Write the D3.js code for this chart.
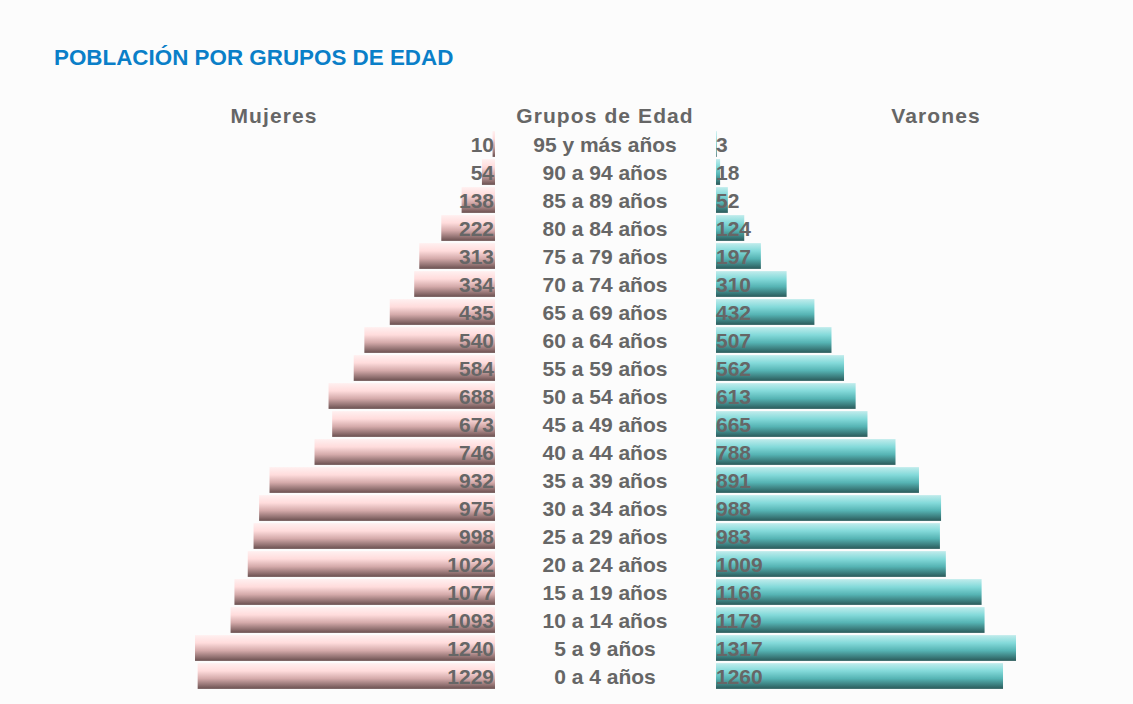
<!DOCTYPE html>
<html>
<head>
<meta charset="utf-8">
<script src="https://d3js.org/d3.v7.min.js"></script>
<style>
  html, body { margin: 0; padding: 0; background: #fcfcfc; }
  svg { display: block; }
</style>
</head>
<body>
<svg id="chart" width="1133" height="704"></svg>
<script>
const groups = ['95 y más años', '90 a 94 años', '85 a 89 años', '80 a 84 años', '75 a 79 años',
  '70 a 74 años', '65 a 69 años', '60 a 64 años', '55 a 59 años', '50 a 54 años',
  '45 a 49 años', '40 a 44 años', '35 a 39 años', '30 a 34 años', '25 a 29 años',
  '20 a 24 años', '15 a 19 años', '10 a 14 años', '5 a 9 años', '0 a 4 años'];
const mujeres = [10, 54, 138, 222, 313, 334, 435, 540, 584, 688, 673, 746, 932, 975, 998, 1022, 1077, 1093, 1240, 1229];
const varones = [3, 18, 52, 124, 197, 310, 432, 507, 562, 613, 665, 788, 891, 988, 983, 1009, 1166, 1179, 1317, 1260];
const headers = ['Mujeres', 'Grupos de Edad', 'Varones'];
const title = 'POBLACIÓN POR GRUPOS DE EDAD';

class PyramidChart {
  constructor(svgId) {
    this.svg = d3.select(`#${svgId}`);
    this.font = '"Liberation Sans", Arial, sans-serif';
    this.leftEnd = 495;
    this.rightStart = 716;
    this.center = 605;
    this.maxWidth = 300;

    this.y = d3.scaleBand()
      .domain(groups)
      .range([130, 690])
      .paddingInner(0.08)
      .paddingOuter(0.04);

    this.xLeft = d3.scaleLinear()
      .domain([0, d3.max(mujeres)])
      .range([0, this.maxWidth]);

    this.xRight = d3.scaleLinear()
      .domain([0, d3.max(varones)])
      .range([0, this.maxWidth]);
  }

  addGradients() {
    const defs = this.svg.append('defs');
    const make = (id, stops) => {
      const g = defs.append('linearGradient')
        .attr('id', id)
        .attr('x1', 0).attr('y1', 0)
        .attr('x2', 0).attr('y2', 1);
      stops.forEach(([offset, color]) => {
        g.append('stop').attr('offset', offset).attr('stop-color', color);
      });
    };
    make('pink', [['0', '#fff0f0'], ['0.3', '#ffdcdc'], ['0.6', '#d4aaaa'], ['1', '#6a5050']]);
    make('teal', [['0', '#c0ecec'], ['0.3', '#84dada'], ['0.6', '#56b4b4'], ['1', '#2a5a5a']]);
  }

  addTitle() {
    this.svg.append('text')
      .attr('x', 54)
      .attr('y', 65)
      .attr('font-family', this.font)
      .attr('font-weight', 'bold')
      .attr('font-size', 22.4)
      .attr('fill', '#0a7fc8')
      .text(title);

    const xs = [274, this.center, 936];
    headers.forEach((h, i) => {
      this.svg.append('text')
        .attr('x', xs[i])
        .attr('y', 123)
        .attr('text-anchor', 'middle')
        .attr('font-family', this.font)
        .attr('font-weight', 'bold')
        .attr('font-size', 21)
        .attr('letter-spacing', 1.1)
        .attr('fill', '#666666')
        .text(h);
    });
  }

  addBars() {
    const bh = this.y.bandwidth();

    this.svg.append('g').selectAll('rect')
      .data(mujeres)
      .join('rect')
      .attr('x', (d) => this.leftEnd - this.xLeft(d))
      .attr('y', (d, i) => this.y(groups[i]))
      .attr('width', (d) => this.xLeft(d))
      .attr('height', bh)
      .attr('fill', 'url(#pink)');

    this.svg.append('g').selectAll('rect')
      .data(varones)
      .join('rect')
      .attr('x', this.rightStart)
      .attr('y', (d, i) => this.y(groups[i]))
      .attr('width', (d) => this.xRight(d))
      .attr('height', bh)
      .attr('fill', 'url(#teal)');
  }

  addLabels() {
    const bh = this.y.bandwidth();
    const base = (g) => this.y(g) + bh / 2 + 7.5;
    const style = (sel) => sel
      .attr('font-family', this.font)
      .attr('font-weight', 'bold')
      .attr('font-size', 21)
      .attr('fill', '#666666');

    this.svg.append('g').selectAll('text')
      .data(mujeres)
      .join('text')
      .attr('x', this.leftEnd - 1)
      .attr('y', (d, i) => base(groups[i]))
      .attr('text-anchor', 'end')
      .call(style)
      .text((d) => d);

    this.svg.append('g').selectAll('text')
      .data(groups)
      .join('text')
      .attr('x', this.center)
      .attr('y', (d) => base(d))
      .attr('text-anchor', 'middle')
      .call(style)
      .text((d) => d);

    this.svg.append('g').selectAll('text')
      .data(varones)
      .join('text')
      .attr('x', this.rightStart)
      .attr('y', (d, i) => base(groups[i]))
      .call(style)
      .text((d) => d);
  }
}

const chart = new PyramidChart('chart');
chart.addGradients();
chart.addTitle();
chart.addBars();
chart.addLabels();
</script>
</body>
</html>
